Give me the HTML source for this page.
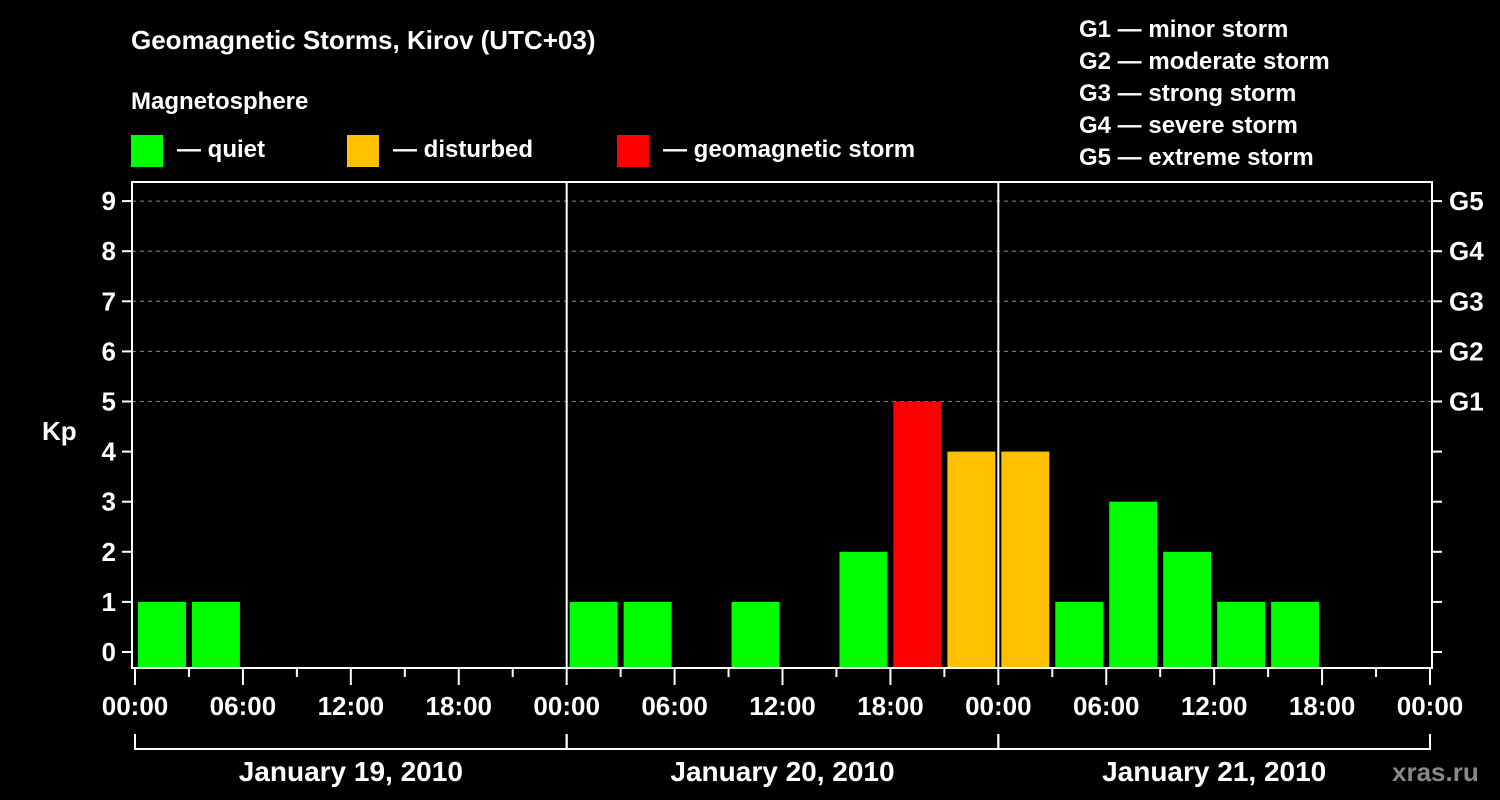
<!DOCTYPE html>
<html><head><meta charset="utf-8"><style>
html,body{margin:0;padding:0;background:#000;}
svg{display:block;font-family:"Liberation Sans",sans-serif;font-weight:bold;}
</style></head><body>
<svg id="chart" width="1500" height="800" xmlns="http://www.w3.org/2000/svg">
<rect width="1500" height="800" fill="#000"/>
<text x="131" y="49" fill="#fff" font-size="26">Geomagnetic Storms, Kirov (UTC+03)</text>
<text x="131" y="109" fill="#fff" font-size="24">Magnetosphere</text>
<g><rect x="131" y="135" width="32" height="32" fill="#00ff00"/><text x="177" y="157" fill="#fff" font-size="24">— quiet</text></g>
<g><rect x="347" y="135" width="32" height="32" fill="#ffc000"/><text x="393" y="157" fill="#fff" font-size="24">— disturbed</text></g>
<g><rect x="617" y="135" width="32" height="32" fill="#ff0000"/><text x="663" y="157" fill="#fff" font-size="24">— geomagnetic storm</text></g>
<g fill="#fff" font-size="24">
<text x="1079" y="37">G1 — minor storm</text>
<text x="1079" y="69">G2 — moderate storm</text>
<text x="1079" y="101">G3 — strong storm</text>
<text x="1079" y="133">G4 — severe storm</text>
<text x="1079" y="165">G5 — extreme storm</text>
</g>
<text x="42" y="440" fill="#fff" font-size="26">Kp</text>
<text x="1392" y="781" fill="#888" font-size="26">xras.ru</text>
<g id="grid"></g><g id="bars"></g><g id="axes"></g>
</svg>
<script>
const days = ["January 19, 2010","January 20, 2010","January 21, 2010"];
const kpValues = [1,1,0,0,0,0,0,0, 1,1,0,1,0,2,5,4, 4,1,3,2,1,1,0,0];
const yTicks = [0,1,2,3,4,5,6,7,8,9];
const gLabels = ["G1","G2","G3","G4","G5"];
const xTickLabels = ["00:00","06:00","12:00","18:00"];
const NS="http://www.w3.org/2000/svg";
const x0=135, x1=1430, yTop=182, yBase=668;
const slotW=(x1-x0)/kpValues.length;
function xs(i){return x0+i*slotW;}
function ys(v){return 652-v*50.1;}
function mk(t,a,p){const e=document.createElementNS(NS,t);for(const k in a)e.setAttribute(k,a[k]);p.appendChild(e);return e;}
const grid=document.getElementById('grid'),bars=document.getElementById('bars'),axes=document.getElementById('axes');
yTicks.forEach(v=>{
  if(v>=5){const l=mk('line',{x1:132,x2:1432,y1:ys(v),y2:ys(v),stroke:'#888','stroke-width':1,'stroke-dasharray':'4,4'},grid);
  
  }
  mk('line',{x1:122,x2:132,y1:ys(v),y2:ys(v),stroke:'#fff','stroke-width':2},axes);
  mk('line',{x1:1432,x2:1442,y1:ys(v),y2:ys(v),stroke:'#fff','stroke-width':2},axes);
  const t=mk('text',{x:116,y:ys(v)+9,fill:'#fff','font-size':26,'text-anchor':'end'},axes);t.textContent=v;
  
  
});
gLabels.forEach((g,i)=>{const t=mk('text',{x:1449,y:ys(5+i)+9,fill:'#fff','font-size':26},axes);t.textContent=g;
  
  });
kpValues.forEach((v,i)=>{
  if(v<=0)return;
  const c=v>=5?'#ff0000':(v>=4?'#ffc000':'#00ff00');
  const r=mk('rect',{x:xs(i)+3,y:ys(v),width:slotW-6,height:yBase-ys(v),fill:c},bars);
  
  
});
mk('rect',{x:132,y:yTop,width:1300,height:yBase-yTop,fill:'none',stroke:'#fff','stroke-width':2},axes);
for(let d=1;d<days.length;d++){const X=xs(d*8);mk('line',{x1:X,x2:X,y1:yTop,y2:yBase,stroke:'#fff','stroke-width':2},axes);}
for(let i=0;i<=kpValues.length;i++){
  const X=xs(i),major=i%2===0;
  mk('line',{x1:X,x2:X,y1:yBase,y2:major?685:677,stroke:'#fff','stroke-width':2},axes);
  if(major){const t=mk('text',{x:X,y:715,fill:'#fff','font-size':26,'text-anchor':'middle'},axes);
    t.textContent=xTickLabels[(i/2)%4];
    
    }
}
days.forEach((d,i)=>{
  const a=xs(i*8),b=xs(i*8+8);
  mk('path',{d:`M${a},734V749H${b}V734`,fill:'none',stroke:'#fff','stroke-width':2},axes);
  const t=mk('text',{x:(a+b)/2,y:781,fill:'#fff','font-size':28,'text-anchor':'middle'},axes);t.textContent=d;
  
  
});
</script>
</body></html>
